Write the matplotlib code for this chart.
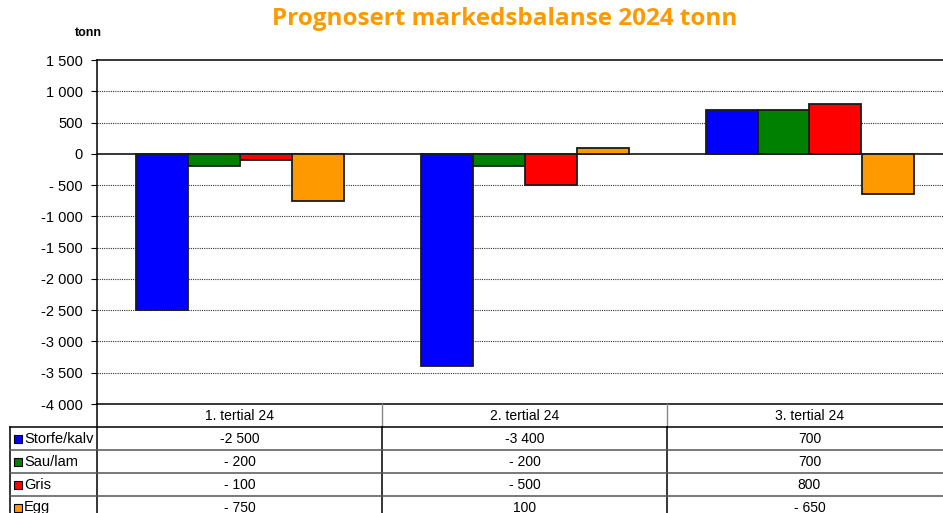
import matplotlib.pyplot as plt
import numpy as np

# data
categories = ['1. tertial 24', '2. tertial 24', '3. tertial 24']
series = ['Storfe/kalv', 'Sau/lam', 'Gris', 'Egg']
storfe = [-2500, -3400, 700]
sau = [-200, -200, 700]
gris = [-100, -500, 800]
egg = [-750, 100, -650]
colors = ['#0000FF', '#008000', '#FF0000', '#FF9900']
yticks = list(range(-4000, 1501, 500))


def fmt(v):
    s = f"{abs(int(v)):,}".replace(",", " ")
    if v < 0:
        return ("- " if abs(v) < 1000 else "-") + s
    return s


W, H = 943, 513
fig = plt.figure(figsize=(W / 100, H / 100), dpi=100)
plt.rcParams['font.family'] = ['Liberation Sans', 'DejaVu Sans']

# main chart axes (right edge runs past the picture, like the original)
x0, x1 = 97, 952
ytop, ybot = 60, 404
ax = fig.add_axes([x0 / W, 1 - ybot / H, (x1 - x0) / W, (ybot - ytop) / H])

x = np.arange(len(categories))
w = 52 / 285
values = [storfe, sau, gris, egg]
for i, (vals, c) in enumerate(zip(values, colors)):
    ax.bar(x + (i - 1.5) * w, vals, w, color=c, edgecolor='#1a1a1a',
           linewidth=1.3, zorder=3)

ax.set_xlim(-0.5, 2.5)
ax.set_ylim(-4000, 1500)
ax.set_yticks(yticks)
ax.set_yticklabels([fmt(v) for v in yticks], fontsize=10.5)
ax.set_xticks([])
ax.tick_params(axis='y', direction='out', length=4, width=0.8, pad=6)
for yv in yticks[1:-1]:
    if yv != 0:
        ax.axhline(yv, color='#333333', lw=0.8, ls=(0, (1, 1)), zorder=1)
ax.axhline(0, color='black', lw=1.1, zorder=2)
for s in ax.spines.values():
    s.set_color('black')
    s.set_linewidth(1.1)

fig.text(88 / W, 1 - 33 / H, 'tonn', fontsize=9, fontweight='bold',
         ha='center', va='center')
fig.text(505 / W, 1 - 19 / H, 'Prognosert markedsbalanse 2024 tonn',
         fontsize=17.5, fontweight='bold', color='#FF9900', ha='center',
         va='center', family=['Open Sans', 'DejaVu Sans'])

# data table below the chart
row_h = 23
nrows = len(series) + 1
lab_w = (x0 - 10) / 285
tax = fig.add_axes([10 / W, 1 - (ybot + nrows * row_h) / H,
                    (x1 - 10) / W, nrows * row_h / H])
tax.set_xlim(-0.5 - lab_w, 2.5)
tax.set_ylim(nrows, 0)
tax.axis('off')
left = -0.5 - lab_w

# header row
for j, cat in enumerate(categories):
    tax.text(j, 0.5, cat, ha='center', va='center', fontsize=10)
for xv in [0.5, 1.5]:
    tax.plot([xv, xv], [0, 1], color='#888888', lw=1.0, clip_on=False)
tax.plot([-0.5, -0.5], [0, nrows], color='black', lw=1.1, clip_on=False)
tax.plot([left, left], [1, nrows], color='black', lw=1.1, clip_on=False)
for xv in [0.5, 1.5]:
    tax.plot([xv, xv], [1, nrows], color='black', lw=1.1, clip_on=False)
for r in range(1, nrows):
    tax.plot([left, 2.5], [r, r], color='black' if r == 1 else '#555555',
             lw=1.1, clip_on=False)

for i, (name, vals, c) in enumerate(zip(series, values, colors)):
    yr = i + 1.5
    tax.plot(left + 8 / 285, yr, 's', color=c, markersize=6,
             markeredgecolor='black', markeredgewidth=0.8, clip_on=False)
    tax.text(left + 14 / 285, yr, name, ha='left', va='center', fontsize=10.5)
    for j, v in enumerate(vals):
        tax.text(j, yr, fmt(v), ha='center', va='center', fontsize=10)

fig.savefig('out.png', dpi=100)
